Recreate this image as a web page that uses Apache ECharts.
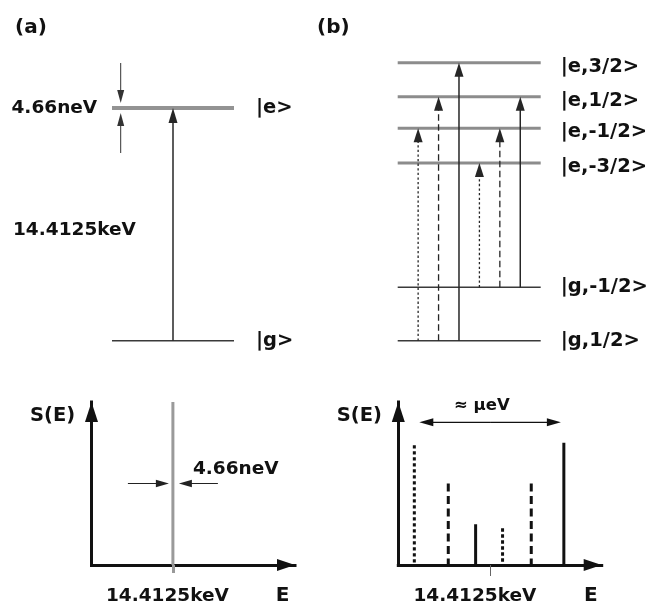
<!DOCTYPE html>
<html><head><meta charset="utf-8">
<script src="https://cdn.jsdelivr.net/npm/echarts@6/dist/echarts.min.js"></script>
<style>html,body{margin:0;padding:0;background:#fff}#c{width:652px;height:605px}</style>
</head><body><div id="c"></div>
<script>
// ---------------- data ----------------
// (a) two-level system
const levelNamesA = ['|g>', '|e>'];
const levelKindsA = ['g', 'e'];
const levelEnergiesA = [0, 1];
const transitionFromA = [0];
const transitionToA = [1];
const transitionXA = [1];
const transitionStyleA = ['solid'];

// (b) split levels
const levelNamesB = ['|g,1/2>', '|g,-1/2>', '|e,-3/2>', '|e,-1/2>', '|e,1/2>', '|e,3/2>'];
const levelKindsB = ['g', 'g', 'e', 'e', 'e', 'e'];
const levelEnergiesB = [0, 1, 3.33, 3.98, 4.57, 5.21];
const transitionFromB = [0, 0, 0, 1, 1, 1];
const transitionToB = [3, 4, 5, 2, 3, 4];
const transitionXB = [1, 2, 3, 4, 5, 6];
const transitionStyleB = ['dotted', 'dashed', 'solid', 'dotted', 'dashed', 'solid'];

// spectra S(E), energy relative to 14.4125 keV (arbitrary units)
const spectrumPosA = [0];
const spectrumIntA = [1];
const spectrumPosB = [-5.61, -3.09, -1.06, 0.94, 3.07, 5.49];
const spectrumIntB = [0.735, 0.50, 0.25, 0.225, 0.50, 0.75];
const spectrumStyleB = ['dotted', 'dashed', 'solid', 'dotted', 'dashed', 'solid'];

const tickValues = [0];
const tickLabels = ['14.4125keV'];
const linewidthLabel = '4.66neV';
const transitionEnergyLabel = '14.4125keV';
const splittingLabel = '≈ μeV';
const axisNameY = 'S(E)';
const axisNameX = 'E';
const panelLabels = ['(a)', '(b)'];

// ---------------- styles ----------------
const FONT = 'DejaVu Sans';
const TXT = '#111';
const styleNames = ['dotted', 'dashed', 'solid'];
const topStyles = {
  dotted: { color: '#262626', width: 1.3, dash: [2.3, 2.3] },
  dashed: { color: '#262626', width: 1.3, dash: [6.5, 3.5] },
  solid:  { color: '#262626', width: 1.5, dash: null }
};
const specStyles = {
  dotted: { color: '#111', width: 3, dash: [3.4, 2.6] },
  dashed: { color: '#111', width: 3, dash: [8, 4.5] },
  solid:  { color: '#111', width: 3, dash: null }
};
const levelStyle = {
  e: { color: '#939393', width: 4 },
  g: { color: '#3a3a3a', width: 1.5 }
};
const levelStyleB = {
  e: { color: '#8c8c8c', width: 3 },
  g: { color: '#3a3a3a', width: 1.5 }
};

function arrowEls(x1, y1, x2, y2, o) {
  const dx = x2 - x1, dy = y2 - y1, L = Math.hypot(dx, dy);
  const ux = dx / L, uy = dy / L;
  const bx = x2 - ux * o.len, by = y2 - uy * o.len;
  const px = -uy, py = ux;
  const lineStyle = { stroke: o.color, lineWidth: o.lw, fill: null };
  if (o.dash) lineStyle.lineDash = o.dash;
  return [
    { type: 'line', shape: { x1: x1, y1: y1, x2: bx + ux * 2, y2: by + uy * 2 }, style: lineStyle },
    { type: 'polygon', shape: { points: [[x2, y2], [bx + px * o.w / 2, by + py * o.w / 2], [bx - px * o.w / 2, by - py * o.w / 2]] }, style: { fill: o.color } }
  ];
}

function levelRenderer(names, kinds, styles, gap, eDy, fontSize) {
  return function (params, api) {
    const cs = params.coordSys;
    const y = api.coord([0, api.value(1)])[1];
    const kind = kinds[params.dataIndex];
    const st = styles[kind];
    return {
      type: 'group',
      children: [
        { type: 'line', shape: { x1: cs.x, y1: y, x2: cs.x + cs.width, y2: y }, style: { stroke: st.color, lineWidth: st.width } },
        { type: 'text', x: cs.x + cs.width + gap, y: y + (kind === 'e' ? eDy : 0),
          style: { text: names[params.dataIndex], fontFamily: FONT, fontWeight: 'bold', fontSize: fontSize, fill: TXT, align: 'left', verticalAlign: 'middle' } }
      ]
    };
  };
}

function transitionRenderer(styles, head) {
  return function (params, api) {
    const x = api.value(0);
    const p0 = api.coord([x, api.value(1)]);
    const p1 = api.coord([x, api.value(2)]);
    const st = styles[styleNames[api.value(3)]];
    return { type: 'group', children: arrowEls(p0[0], p0[1], p1[0], p1[1], { color: st.color, lw: st.width, dash: st.dash, len: head.len, w: head.w }) };
  };
}

function spectrumRenderer(styleOf) {
  return function (params, api) {
    const top = api.coord([api.value(0), api.value(1)]);
    const bot = api.coord([api.value(0), 0]);
    const st = styleOf(api.value(2));
    const s = { stroke: st.color, lineWidth: st.width };
    if (st.dash) s.lineDash = st.dash;
    return { type: 'line', shape: { x1: top[0], y1: top[1], x2: bot[0], y2: bot[1] }, style: s };
  };
}

const chart = echarts.init(document.getElementById('c'), null, { renderer: 'canvas' });

const specAxisLineX = { show: true, onZero: false, symbol: ['none', 'triangle'], symbolSize: [12, 18], symbolOffset: [0, -9], lineStyle: { color: '#111', width: 3, cap: 'square' } };
const specAxisLineY = { show: true, onZero: false, symbol: ['none', 'triangle'], symbolSize: [13, 20], symbolOffset: [0, -10], lineStyle: { color: '#111', width: 3, cap: 'square' } };
const tickLabelStyle = { show: true, customValues: tickValues, formatter: function (v) { return tickLabels[tickValues.indexOf(v)]; },
  fontFamily: FONT, fontWeight: 'bold', fontSize: 18.5, color: TXT, margin: 22 };

const option = {
  backgroundColor: '#fff',
  animation: false,
  grid: [
    { left: 112, top: 108, width: 122, height: 232.7, outerBoundsMode: 'none', containLabel: false },
    { left: 397.7, top: 62.7, width: 143, height: 278, outerBoundsMode: 'none', containLabel: false },
    { left: 91.5, top: 402, width: 203.5, height: 163, outerBoundsMode: 'none', containLabel: false },
    { left: 398.3, top: 402, width: 203.4, height: 163, outerBoundsMode: 'none', containLabel: false }
  ],
  xAxis: [
    { gridIndex: 0, type: 'value', min: 0, max: 2, show: false },
    { gridIndex: 1, type: 'value', min: 0, max: 7, show: false },
    { gridIndex: 2, type: 'value', min: -1, max: 1.5, axisLine: specAxisLineX, splitLine: { show: false },
      axisTick: { show: true, customValues: tickValues, length: 8, lineStyle: { color: '#999', width: 3 } },
      axisLabel: Object.assign({}, tickLabelStyle, { padding: [0, 11, 0, 0] }) },
    { gridIndex: 3, type: 'value', min: -6.8, max: 8.3, axisLine: specAxisLineX, splitLine: { show: false },
      axisTick: { show: true, customValues: tickValues, length: 11, lineStyle: { color: '#666', width: 1 } },
      axisLabel: Object.assign({}, tickLabelStyle, { padding: [0, 30, 0, 0] }) }
  ],
  yAxis: [
    { gridIndex: 0, type: 'value', min: 0, max: 1, show: false },
    { gridIndex: 1, type: 'value', min: 0, max: 5.21, show: false },
    { gridIndex: 2, type: 'value', min: 0, max: 1, axisLine: specAxisLineY, axisTick: { show: false }, axisLabel: { show: false }, splitLine: { show: false } },
    { gridIndex: 3, type: 'value', min: 0, max: 1, axisLine: specAxisLineY, axisTick: { show: false }, axisLabel: { show: false }, splitLine: { show: false } }
  ],
  series: [
    // (a) levels
    { type: 'custom', xAxisIndex: 0, yAxisIndex: 0, clip: false, z: 2,
      data: levelEnergiesA.map(function (E) { return [0, E]; }), encode: { x: 0, y: 1 },
      renderItem: levelRenderer(levelNamesA, levelKindsA, levelStyle, 22, 0, 19.5) },
    // (a) transition
    { type: 'custom', xAxisIndex: 0, yAxisIndex: 0, clip: false, z: 3,
      data: transitionXA.map(function (x, i) { return [x, levelEnergiesA[transitionFromA[i]], levelEnergiesA[transitionToA[i]], styleNames.indexOf(transitionStyleA[i])]; }),
      encode: { x: 0, y: [1, 2] },
      renderItem: transitionRenderer(topStyles, { len: 15, w: 9 }) },
    // (a) annotations: natural linewidth & transition energy
    { type: 'custom', xAxisIndex: 0, yAxisIndex: 0, clip: false, z: 3,
      data: [[0, levelEnergiesA[1], levelEnergiesA[0]]], encode: { x: 0, y: 1 },
      renderItem: function (params, api) {
        const cs = params.coordSys;
        const eY = api.coord([0, api.value(1)])[1];
        const gY = api.coord([0, api.value(2)])[1];
        const ax = cs.x + 8.7;
        const o = { color: '#333', lw: 1, len: 13, w: 7 };
        return { type: 'group', children: []
          .concat(arrowEls(ax, eY - 45, ax, eY - 5, o))
          .concat(arrowEls(ax, eY + 45, ax, eY + 5, o))
          .concat([
            { type: 'text', x: 11.5, y: eY, style: { text: linewidthLabel, fontFamily: FONT, fontWeight: 'bold', fontSize: 18.5, fill: TXT, align: 'left', verticalAlign: 'middle' } },
            { type: 'text', x: 13, y: (eY + gY) / 2 + 6, style: { text: transitionEnergyLabel, fontFamily: FONT, fontWeight: 'bold', fontSize: 18.5, fill: TXT, align: 'left', verticalAlign: 'middle' } }
          ]) };
      } },
    // (b) levels
    { type: 'custom', xAxisIndex: 1, yAxisIndex: 1, clip: false, z: 2,
      data: levelEnergiesB.map(function (E) { return [0, E]; }), encode: { x: 0, y: 1 },
      renderItem: levelRenderer(levelNamesB, levelKindsB, levelStyleB, 20, 4, 19.5) },
    // (b) transitions
    { type: 'custom', xAxisIndex: 1, yAxisIndex: 1, clip: false, z: 3,
      data: transitionXB.map(function (x, i) { return [x, levelEnergiesB[transitionFromB[i]], levelEnergiesB[transitionToB[i]], styleNames.indexOf(transitionStyleB[i])]; }),
      encode: { x: 0, y: [1, 2] },
      renderItem: transitionRenderer(topStyles, { len: 14, w: 9 }) },
    // spectrum (a)
    { type: 'custom', xAxisIndex: 2, yAxisIndex: 2, clip: false, z: 1,
      data: spectrumPosA.map(function (x, i) { return [x, spectrumIntA[i], 0]; }), encode: { x: 0, y: 1 },
      renderItem: spectrumRenderer(function () { return { color: '#9a9a9a', width: 3, dash: null }; }) },
    // spectrum (a) linewidth annotation
    { type: 'custom', xAxisIndex: 2, yAxisIndex: 2, clip: false, z: 3,
      data: [[spectrumPosA[0], 0.5]], encode: { x: 0, y: 1 },
      renderItem: function (params, api) {
        const p = api.coord([api.value(0), api.value(1)]);
        const o = { color: '#222', lw: 1, len: 13, w: 7.5 };
        return { type: 'group', children: []
          .concat(arrowEls(p[0] - 45, p[1], p[0] - 4, p[1], o))
          .concat(arrowEls(p[0] + 45, p[1], p[0] + 6, p[1], o))
          .concat([{ type: 'text', x: p[0] + 20, y: p[1] - 14, style: { text: linewidthLabel, fontFamily: FONT, fontWeight: 'bold', fontSize: 18.5, fill: TXT, align: 'left', verticalAlign: 'middle' } }]) };
      } },
    // spectrum (b)
    { type: 'custom', xAxisIndex: 3, yAxisIndex: 3, clip: false, z: 1,
      data: spectrumPosB.map(function (x, i) { return [x, spectrumIntB[i], styleNames.indexOf(spectrumStyleB[i])]; }), encode: { x: 0, y: 1 },
      renderItem: spectrumRenderer(function (k) { return specStyles[styleNames[k]]; }) },
    // spectrum (b) splitting-range annotation
    { type: 'custom', xAxisIndex: 3, yAxisIndex: 3, clip: false, z: 3,
      data: [[Math.min.apply(null, spectrumPosB), Math.max.apply(null, spectrumPosB)]], encode: { x: [0, 1] },
      renderItem: function (params, api) {
        const cs = params.coordSys;
        const l = api.coord([api.value(0), 0])[0] + 5;
        const r = api.coord([api.value(1), 0])[0] - 3;
        const y = cs.y + 20.3;
        const o = { color: '#111', lw: 1.2, len: 14, w: 8 };
        const mid = (l + r) / 2;
        return { type: 'group', children: []
          .concat(arrowEls(mid, y, l, y, o))
          .concat(arrowEls(mid, y, r, y, o))
          .concat([{ type: 'text', x: 454, y: y - 17, style: { text: splittingLabel, fontFamily: FONT, fontWeight: 'bold', fontSize: 16.5, fill: TXT, align: 'left', verticalAlign: 'middle' } }]) };
      } }
  ],
  graphic: [
    { type: 'text', x: 15, y: 28, style: { text: panelLabels[0], fontFamily: FONT, fontWeight: 'bold', fontSize: 20, fill: TXT, verticalAlign: 'middle' } },
    { type: 'text', x: 317, y: 28, style: { text: panelLabels[1], fontFamily: FONT, fontWeight: 'bold', fontSize: 20, fill: TXT, verticalAlign: 'middle' } },
    { type: 'text', x: 30, y: 416, style: { text: axisNameY, fontFamily: FONT, fontWeight: 'bold', fontSize: 19.5, fill: TXT, verticalAlign: 'middle' } },
    { type: 'text', x: 336.7, y: 416, style: { text: axisNameY, fontFamily: FONT, fontWeight: 'bold', fontSize: 19.5, fill: TXT, verticalAlign: 'middle' } },
    { type: 'text', x: 282.5, y: 596, style: { text: axisNameX, fontFamily: FONT, fontWeight: 'bold', fontSize: 20, fill: TXT, align: 'center', verticalAlign: 'middle' } },
    { type: 'text', x: 590.8, y: 596, style: { text: axisNameX, fontFamily: FONT, fontWeight: 'bold', fontSize: 20, fill: TXT, align: 'center', verticalAlign: 'middle' } }
  ]
};
chart.setOption(option);
</script>
</body></html>
